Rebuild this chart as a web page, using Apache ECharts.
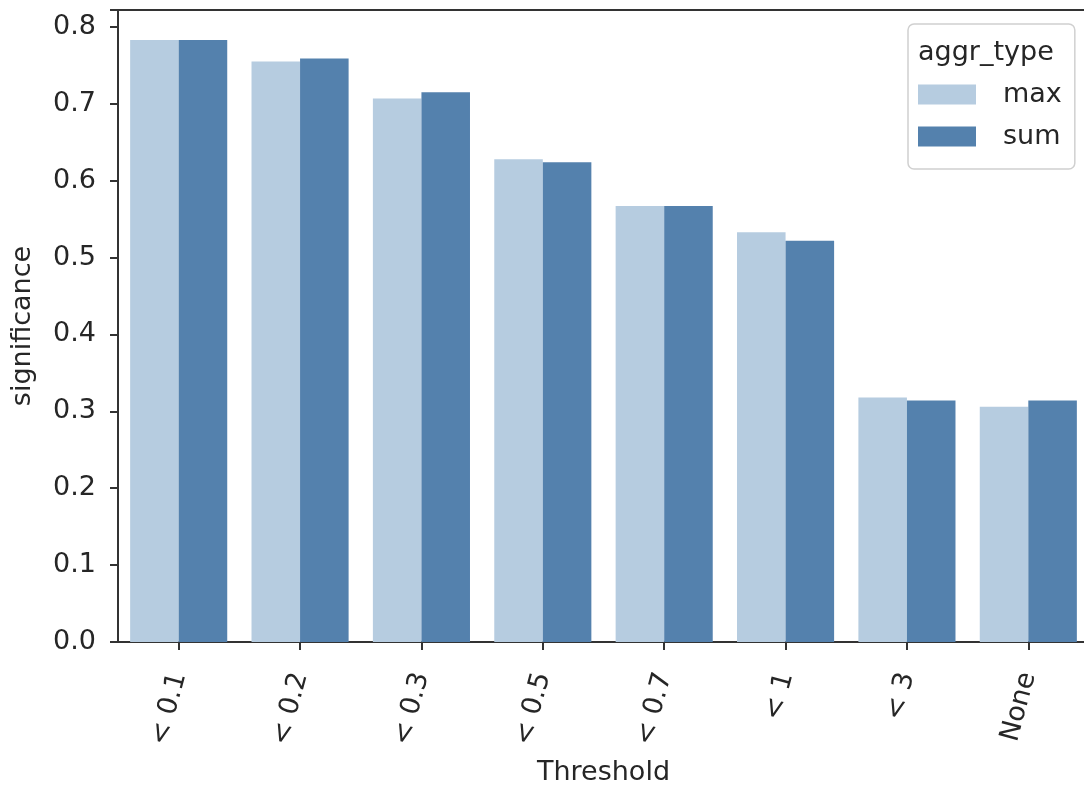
<!DOCTYPE html>
<html>
<head>
<meta charset="utf-8">
<script src="https://cdn.jsdelivr.net/npm/echarts@6/dist/echarts.min.js"></script>
<style>html,body{margin:0;padding:0;background:#fff;}#c{width:1084px;height:788px;}</style>
</head>
<body>
<div id="c"></div>
<script>
const categories = ['< 0.1', '< 0.2', '< 0.3', '< 0.5', '< 0.7', '< 1', '< 3', 'None'];
const maxValues = [0.783, 0.755, 0.707, 0.628, 0.567, 0.533, 0.318, 0.306];
const sumValues = [0.783, 0.759, 0.715, 0.624, 0.567, 0.522, 0.314, 0.314];
const yTicks = [0.0, 0.1, 0.2, 0.3, 0.4, 0.5, 0.6, 0.7, 0.8];

const FONT = 'DejaVu Sans';
const TXT = '#262626';
const AX = '#333333';
const chart = echarts.init(document.getElementById('c'));
chart.setOption({
  animation: false,
  textStyle: { fontFamily: FONT },
  grid: { left: 118, top: 10, width: 971, height: 632, containLabel: false, outerBoundsMode: 'none' },
  xAxis: {
    type: 'category',
    data: categories,
    name: 'Threshold',
    nameLocation: 'middle',
    nameGap: 117,
    nameTextStyle: { fontSize: 27, color: TXT, fontFamily: FONT },
    axisLine: { lineStyle: { color: AX, width: 2 } },
    axisTick: { show: true, alignWithLabel: true, length: 8, lineStyle: { color: AX, width: 2 } },
    axisLabel: { rotate: 75, fontSize: 27, color: TXT, margin: 31, fontFamily: FONT, padding: [28, 0, 0, 0] },
    splitLine: { show: false }
  },
  yAxis: {
    type: 'value',
    min: 0,
    max: 0.822,
    interval: 0.1,
    name: 'significance',
    nameLocation: 'middle',
    nameGap: 82,
    nameTextStyle: { fontSize: 27, color: TXT, fontFamily: FONT },
    axisLine: { show: true, lineStyle: { color: AX, width: 2 } },
    axisTick: { show: true, length: 8, lineStyle: { color: AX, width: 2 } },
    axisLabel: { fontSize: 27, color: TXT, margin: 22, fontFamily: FONT,
      formatter: v => { const t = yTicks.find(x => Math.abs(x - v) < 1e-6); return t === undefined ? '' : t.toFixed(1); } },
    splitLine: { show: false }
  },
  legend: {
    orient: 'vertical',
    left: 908,
    top: 24,
    padding: [57, 13, 19, 10],
    backgroundColor: '#fff',
    borderColor: '#d0d0d0',
    borderWidth: 1.5,
    borderRadius: 6,
    itemWidth: 58,
    itemHeight: 20,
    itemGap: 15,
    icon: 'rect',
    textStyle: { fontSize: 27, color: TXT, fontFamily: FONT, padding: [0, 0, 0, 22] },
    data: ['max', 'sum']
  },
  graphic: [
    { type: 'line', shape: { x1: 118, y1: 10, x2: 1084, y2: 10 }, style: { stroke: AX, lineWidth: 2 }, z: 10 },
    { type: 'text', left: 918, top: 39, style: { text: 'aggr_type', font: '27px "DejaVu Sans"', fill: TXT }, z: 20 }
  ],
  series: [
    { name: 'max', type: 'bar', data: maxValues, barGap: '0%', barCategoryGap: '20%', itemStyle: { color: '#b6cce0' } },
    { name: 'sum', type: 'bar', data: sumValues, barGap: '0%', barCategoryGap: '20%', itemStyle: { color: '#5481ad' } }
  ]
});
</script>
</body>
</html>
